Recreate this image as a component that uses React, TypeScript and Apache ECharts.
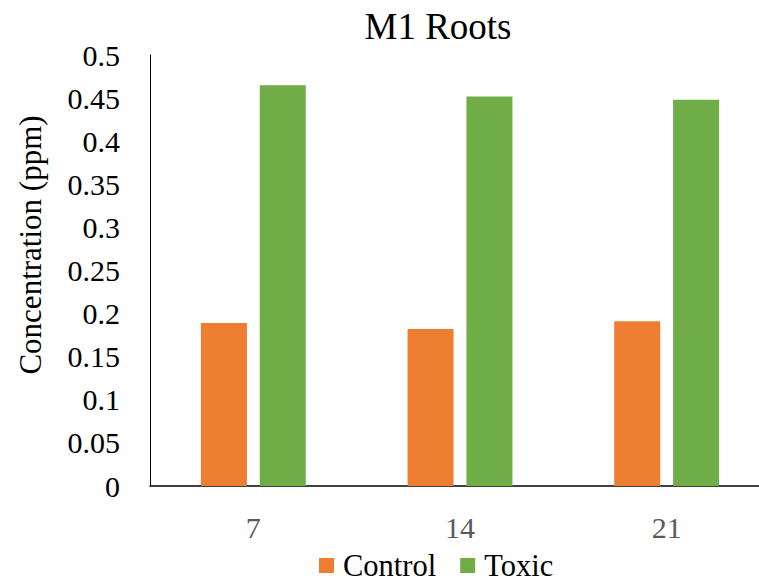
import React, { useEffect, useRef } from "react";
import * as echarts from "echarts";

const days = ["7", "14", "21"];
const controlValues = [0.189, 0.182, 0.191];
const toxicValues = [0.465, 0.452, 0.448];
const yTicks = { min: 0, max: 0.5, interval: 0.05 };

const FONT = "'Times New Roman', 'Liberation Serif', serif";

export default function App() {
  const ref = useRef<HTMLDivElement>(null);

  useEffect(() => {
    document.body.style.margin = "0";
    const chart = echarts.init(ref.current!, null, { renderer: "svg" });
    chart.setOption({
      animation: false,
      backgroundColor: "#ffffff",
      textStyle: { fontFamily: FONT },
      title: {
        text: "M1 Roots",
        left: 438,
        top: 8,
        padding: 0,
        textAlign: "center",
        textStyle: { fontFamily: FONT, fontSize: 37, fontWeight: "normal", color: "#000" },
      },
      legend: {
        data: ["Control", "Toxic"],
        top: 550,
        left: 319,
        padding: 0,
        itemWidth: 15,
        itemHeight: 15,
        itemGap: 24,
        icon: "rect",
        textStyle: {
          fontFamily: FONT,
          fontSize: 30.5,
          lineHeight: 28,
          color: "#000",
          padding: [0, 0, 0, 4],
        },
      },
      // plot area runs past the right edge of the visible frame
      grid: { left: 150, top: 55, right: 0, bottom: 98, containLabel: false },
      xAxis: {
        type: "category",
        data: days,
        axisLine: { show: true, lineStyle: { color: "#000", width: 1.5 } },
        axisTick: { show: false },
        axisLabel: { fontFamily: FONT, fontSize: 30, color: "#595959", margin: 26 },
      },
      yAxis: {
        type: "value",
        min: yTicks.min,
        max: yTicks.max,
        interval: yTicks.interval,
        axisLine: { show: true, lineStyle: { color: "#000", width: 1 } },
        axisTick: { show: false },
        splitLine: { show: false },
        axisLabel: { fontFamily: FONT, fontSize: 30, color: "#000", margin: 30 },
      },
      graphic: [
        {
          type: "text",
          x: 30,
          y: 245,
          rotation: Math.PI / 2,
          style: {
            text: "Concentration (ppm)",
            fontFamily: FONT,
            fontSize: 31,
            fill: "#000",
            align: "center",
            verticalAlign: "middle",
          },
        },
      ],
      series: [
        {
          name: "Control",
          type: "bar",
          data: controlValues,
          barWidth: 46,
          barGap: "28%",
          itemStyle: { color: "#ED7D31" },
        },
        {
          name: "Toxic",
          type: "bar",
          data: toxicValues,
          barWidth: 46,
          barGap: "28%",
          itemStyle: { color: "#70AD47" },
        },
      ],
    });
    return () => chart.dispose();
  }, []);

  return (
    <div style={{ width: 759, height: 584, overflow: "hidden" }}>
      <div ref={ref} style={{ width: 770, height: 584 }} />
    </div>
  );
}
